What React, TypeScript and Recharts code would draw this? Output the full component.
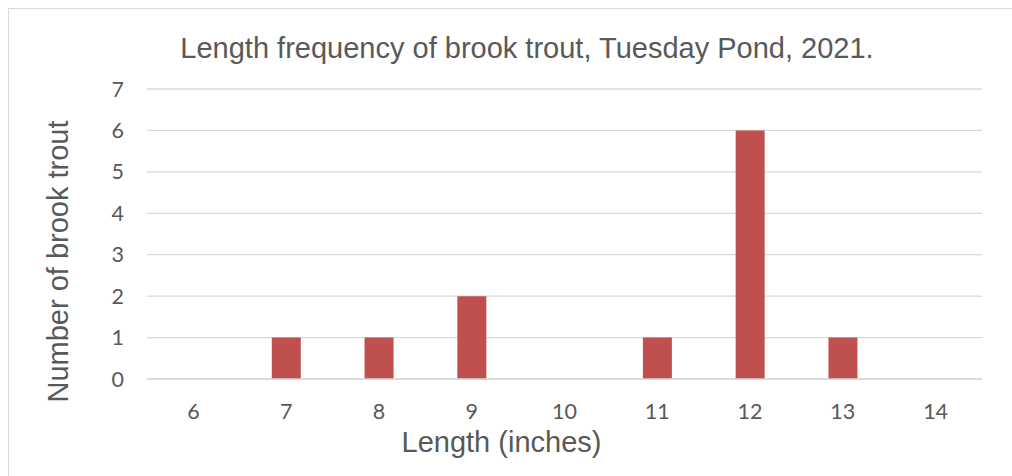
import React from "react";
import { BarChart, Bar, XAxis, YAxis, CartesianGrid } from "recharts";

const lengths = ["6", "7", "8", "9", "10", "11", "12", "13", "14"];
const counts = [0, 1, 1, 2, 0, 1, 6, 1, 0];
const yTicks = [0, 1, 2, 3, 4, 5, 6, 7];

const titleText = "Length frequency of brook trout, Tuesday Pond, 2021.";
const xLabel = "Length (inches)";
const yLabel = "Number of brook trout";

const data = lengths.map((l, i) => ({ length: l, count: counts[i] }));

const TEXT = "#595959";
const LABEL_FONT = "'Liberation Sans', Arial, sans-serif";
const TICK_FONT = "Lato, 'Open Sans', sans-serif";

export default function App() {
  return (
    <div
      style={{
        position: "absolute",
        left: 8,
        top: 8,
        width: 1004,
        height: 468,
        overflow: "hidden",
        borderTop: "1px solid #d9d9d9",
        borderLeft: "1px solid #d9d9d9",
        boxSizing: "border-box",
        background: "#fff",
      }}
    >
      <BarChart
        width={1003}
        height={467}
        data={data}
        margin={{ top: 80, right: 30, left: 0, bottom: 0 }}
      >
        <CartesianGrid vertical={false} stroke="#d9d9d9" strokeWidth={1.3} />
        <XAxis
          dataKey="length"
          height={97}
          tickLine={false}
          tickSize={0}
          tickMargin={25}
          axisLine={{ stroke: "#d9d9d9", strokeWidth: 1.3 }}
          tick={{ fill: TEXT, fontSize: 21.5, fontFamily: TICK_FONT }}
        />
        <YAxis
          width={138}
          domain={[0, 7]}
          ticks={yTicks}
          interval={0}
          axisLine={false}
          tickLine={false}
          tickSize={0}
          tickMargin={23}
          tick={{ fill: TEXT, fontSize: 21.5, fontFamily: TICK_FONT }}
        />
        <Bar dataKey="count" fill="#C0504D" barSize={29} isAnimationActive={false} />
        <text
          x={518}
          y={49}
          textAnchor="middle"
          fill={TEXT}
          fontSize={29}
          fontFamily={LABEL_FONT}
        >
          {titleText}
        </text>
        <text
          x={492.5}
          y={442.7}
          textAnchor="middle"
          fill={TEXT}
          fontSize={29}
          fontFamily={LABEL_FONT}
        >
          {xLabel}
        </text>
        <text
          x={59.3}
          y={252.5}
          textAnchor="middle"
          fill={TEXT}
          fontSize={29}
          fontFamily={LABEL_FONT}
          transform="rotate(-90, 59.3, 252.5)"
        >
          {yLabel}
        </text>
      </BarChart>
    </div>
  );
}
